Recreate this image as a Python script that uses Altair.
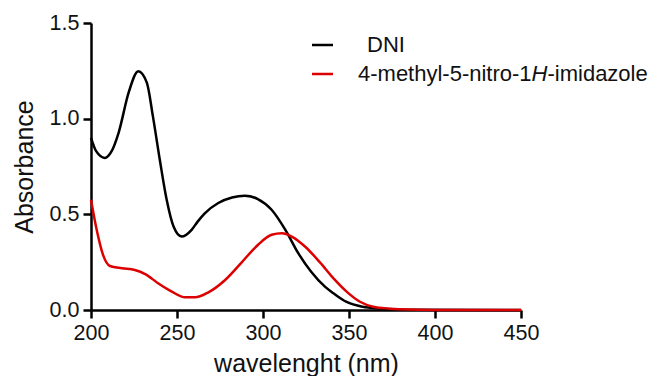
import altair as alt
import pandas as pd

# ---- data ----
series = ["DNI", "4-methyl-5-nitro-1H-imidazole"]
colors = ["#000000", "#dd0000"]

wl_dni = [200, 203, 208, 212, 216, 222, 227.5, 232.5, 236, 240, 244, 248, 252.7,
          258.5, 262, 266, 274, 282, 289.5, 297, 305, 313, 320.5, 328, 336, 341,
          348.6, 358, 368, 378, 390, 450]
abs_dni = [0.90, 0.83, 0.795, 0.83, 0.925, 1.14, 1.248, 1.187, 1.012, 0.785, 0.576,
           0.436, 0.384, 0.419, 0.462, 0.504, 0.559, 0.588, 0.597, 0.580, 0.524,
           0.419, 0.297, 0.200, 0.122, 0.087, 0.042, 0.017, 0.008, 0.003, 0.001, 0.0]

wl_imid = [200, 203.3, 207, 211, 218, 225.5, 231.5, 239, 247, 254.7, 260.5, 268, 278,
           287.5, 297, 305, 311, 316.7, 324.4, 333, 341, 348.6, 356.4, 364, 374, 384,
           400, 450]
abs_imid = [0.576, 0.419, 0.288, 0.230, 0.218, 0.209, 0.188, 0.140, 0.096, 0.066,
            0.066, 0.091, 0.157, 0.248, 0.340, 0.393, 0.401, 0.384, 0.332, 0.250,
            0.165, 0.096, 0.043, 0.017, 0.007, 0.002, 0.0, 0.0]

x_ticks = [200, 250, 300, 350, 400, 450]
y_ticks = [0.0, 0.5, 1.0, 1.5]

df = pd.concat([
    pd.DataFrame({"wl": wl_dni, "A": abs_dni, "s": series[0]}),
    pd.DataFrame({"wl": wl_imid, "A": abs_imid, "s": series[1]}),
], ignore_index=True)

FONT = "Liberation Sans"
LFS = 22

lines = alt.Chart(df).mark_line(strokeWidth=2.5, interpolate="monotone").encode(
    x=alt.X("wl:Q",
            scale=alt.Scale(domain=[200, 450], nice=False, zero=False),
            axis=alt.Axis(values=x_ticks, format="d", title="wavelenght (nm)",
                          titlePadding=8, labelFlush=False, labelOverlap=False)),
    y=alt.Y("A:Q",
            scale=alt.Scale(domain=[0, 1.5], nice=False),
            axis=alt.Axis(values=y_ticks, format=".1f", title="Absorbance",
                          titlePadding=12, labelFlush=False, labelOverlap=False)),
    color=alt.Color("s:N", scale=alt.Scale(domain=series, range=colors), legend=None),
)

one = alt.Data(values=[{}])

leg_line1 = alt.Chart(one).mark_rule(color=colors[0], strokeWidth=2.5).encode(
    x=alt.value(221), x2=alt.value(242), y=alt.value(22))
leg_line2 = alt.Chart(one).mark_rule(color=colors[1], strokeWidth=2.5).encode(
    x=alt.value(221), x2=alt.value(242), y=alt.value(51))

txt = dict(align="left", baseline="middle", fontSize=LFS, font=FONT, color="#111")
leg_t1 = alt.Chart(one).mark_text(**txt).encode(
    x=alt.value(276), y=alt.value(22), text=alt.value("DNI"))
leg_t2a = alt.Chart(one).mark_text(**txt).encode(
    x=alt.value(267), y=alt.value(51), text=alt.value("4-methyl-5-nitro-1"))
leg_t2b = alt.Chart(one).mark_text(fontStyle="italic", **txt).encode(
    x=alt.value(267 + 7.89 * LFS), y=alt.value(51), text=alt.value("H"))
leg_t2c = alt.Chart(one).mark_text(**txt).encode(
    x=alt.value(267 + 8.612 * LFS), y=alt.value(51), text=alt.value("-imidazole"))

chart = alt.layer(lines, leg_line1, leg_line2, leg_t1, leg_t2a, leg_t2b, leg_t2c).properties(
    width=430, height=287,
    autosize=alt.AutoSizeParams(type="none"),
    padding={"left": 83, "top": 15, "right": 137, "bottom": 66},
).configure_view(stroke=None).configure_axis(
    grid=False,
    domainColor="#000", domainWidth=2.5,
    tickColor="#000", tickWidth=2.5, tickSize=8,
    labelFont=FONT, labelFontSize=21.5, labelColor="#111", labelPadding=4,
    titleFont=FONT, titleFontSize=25, titleFontWeight="normal", titleColor="#111",
)

chart.save("out.html", embed_options={"renderer": "svg", "actions": False})
